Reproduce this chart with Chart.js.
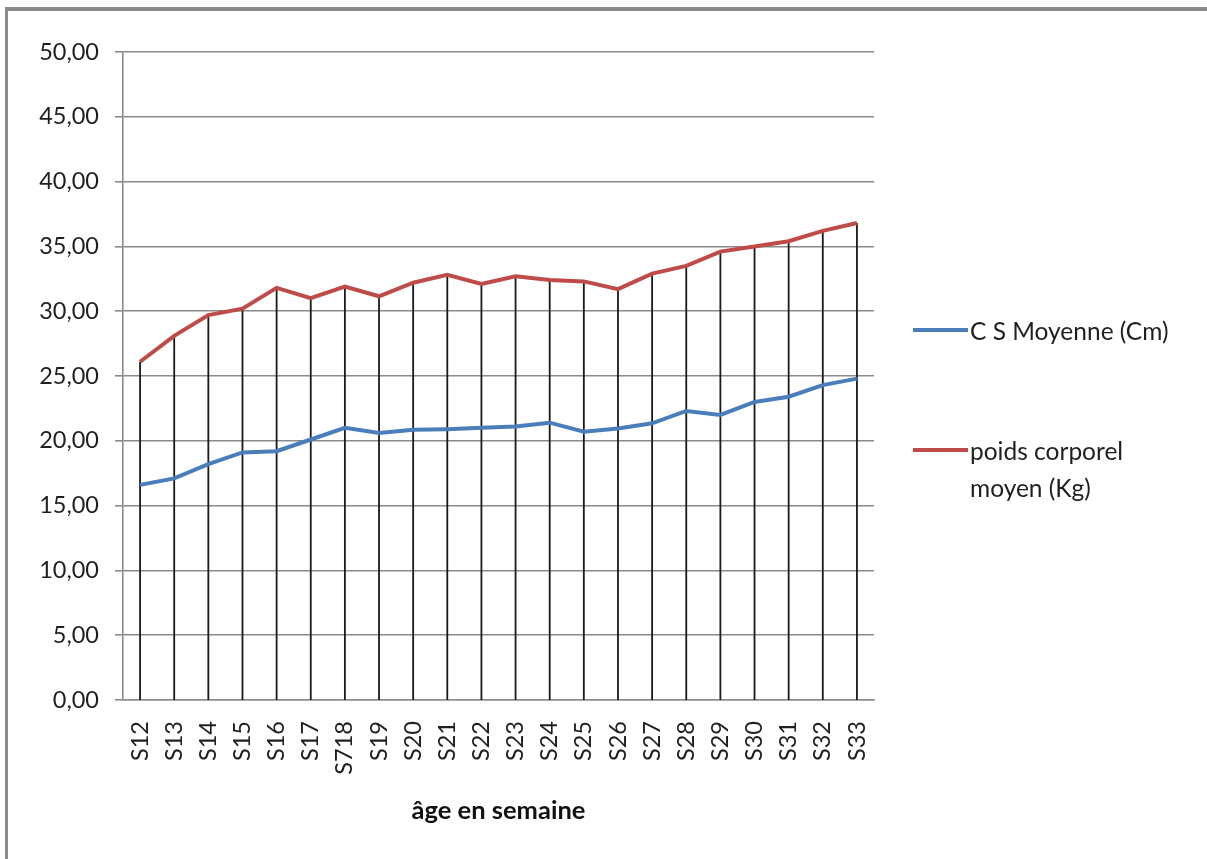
<!DOCTYPE html>
<html>
<head>
<meta charset="utf-8">
<script src="https://cdn.jsdelivr.net/npm/chart.js@4"></script>
<style>
  html, body { margin: 0; padding: 0; background: #fff; }
  #wrap { position: relative; width: 1207px; height: 859px; overflow: hidden; }
  #frame {
    position: absolute; left: 5px; top: 7px; width: 1199px; height: 900px;
    border-top: 4px solid #8a8a8a; border-left: 3px solid #8a8a8a; border-right: 1px solid #e4e4e4;
    pointer-events: none;
  }
  canvas { position: absolute; left: 0; top: 0; }
</style>
</head>
<body>
<div id="wrap">
  <canvas id="chart" width="1207" height="859"></canvas>
  <div id="frame"></div>
</div>
<script>
// weeks (S718 is written that way in the source chart)
const weeks = ['S12', 'S13', 'S14', 'S15', 'S16', 'S17', 'S718', 'S19', 'S20', 'S21', 'S22',
    'S23', 'S24', 'S25', 'S26', 'S27', 'S28', 'S29', 'S30', 'S31', 'S32', 'S33'];

const csMoyenne = [16.6, 17.1, 18.2, 19.1, 19.2, 20.1, 21.0, 20.6, 20.85, 20.9, 21.0,
    21.1, 21.4, 20.7, 20.95, 21.35, 22.3, 22.0, 23.0, 23.4, 24.3, 24.8];

const poidsMoyen = [26.1, 28.1, 29.7, 30.2, 31.8, 31.0, 31.9, 31.15, 32.2, 32.8, 32.1,
    32.7, 32.4, 32.3, 31.7, 32.9, 33.5, 34.6, 35.0, 35.4, 36.2, 36.8];

const seriesNames = ['C S Moyenne (Cm)', 'poids corporel\nmoyen (Kg)'];
const seriesColors = ['#4a7ebb', '#be4b48'];

const FONT = 'Lato, "Open Sans", sans-serif';
const TEXT = '#1f1f1f';

// vertical lines from the highest point down to the category axis
const dropLines = {
    id: 'dropLines',
    beforeDatasetsDraw(chart) {
        const { ctx, chartArea, scales } = chart;
        ctx.save();
        ctx.strokeStyle = '#1a1a1a';
        ctx.lineWidth = 1.8;
        weeks.forEach((w, i) => {
            const x = scales.x.getPixelForValue(i);
            const y = scales.y.getPixelForValue(Math.max(csMoyenne[i], poidsMoyen[i]));
            ctx.beginPath();
            ctx.moveTo(x, y);
            ctx.lineTo(x, chartArea.bottom);
            ctx.stroke();
        });
        ctx.restore();
    }
};

// Excel style legend on the right, second label wraps on two lines
const sideLegend = {
    id: 'sideLegend',
    afterDraw(chart) {
        const { ctx, chartArea } = chart;
        const mid = (chartArea.top + chartArea.bottom) / 2;
        const x0 = chartArea.right + 39;
        const rows = [mid - 46, mid + 74];
        ctx.save();
        ctx.font = '24.5px ' + FONT;
        ctx.fillStyle = TEXT;
        ctx.textBaseline = 'middle';
        chart.data.datasets.forEach((ds, i) => {
            const y = rows[i];
            ctx.strokeStyle = ds.borderColor;
            ctx.lineWidth = 4;
            ctx.beginPath();
            ctx.moveTo(x0, y);
            ctx.lineTo(x0 + 55, y);
            ctx.stroke();
            seriesNames[i].split('\n').forEach((line, k) => {
                ctx.fillText(line, x0 + 57, y + 2 + k * 37);
            });
        });
        ctx.restore();
    }
};

const ctx = document.getElementById('chart').getContext('2d');
const chart = new Chart(ctx, {
    type: 'line',
    data: {
        labels: weeks,
        datasets: [{
            label: seriesNames[0],
            data: csMoyenne,
            borderColor: seriesColors[0],
            borderWidth: 4,
            pointRadius: 0,
            tension: 0
        }, {
            label: seriesNames[1],
            data: poidsMoyen,
            borderColor: seriesColors[1],
            borderWidth: 4,
            pointRadius: 0,
            tension: 0
        }]
    },
    options: {
        responsive: false,
        animation: false,
        layout: { padding: { top: 52, left: 0, right: 333, bottom: 0 } },
        plugins: {
            legend: { display: false },
            tooltip: { enabled: false }
        },
        scales: {
            x: {
                offset: true,
                grid: { display: false, drawTicks: false },
                border: { display: true, color: '#8e8e8e', width: 1.5 },
                ticks: {
                    autoSkip: false,
                    minRotation: 90,
                    maxRotation: 90,
                    padding: 21,
                    color: TEXT,
                    font: { family: FONT, size: 23.5 }
                },
                title: {
                    display: true,
                    text: 'âge en semaine',
                    color: '#111',
                    font: { family: FONT, size: 25.5, weight: 'bold' },
                    padding: { top: 0, bottom: 33 }
                },
                afterFit(scale) { scale.height = 159; }
            },
            y: {
                min: 0,
                max: 50,
                grid: { color: '#8a8a8a', lineWidth: 1.6, tickLength: 8 },
                border: { display: true, color: '#8a8a8a', width: 1.6 },
                ticks: {
                    stepSize: 5,
                    padding: 16,
                    color: TEXT,
                    font: { family: FONT, size: 23.5 },
                    callback: (v) => v.toFixed(2).replace('.', ',')
                },
                afterFit(scale) { scale.width = 123; }
            }
        }
    },
    plugins: [dropLines, sideLegend]
});
</script>
</body>
</html>
